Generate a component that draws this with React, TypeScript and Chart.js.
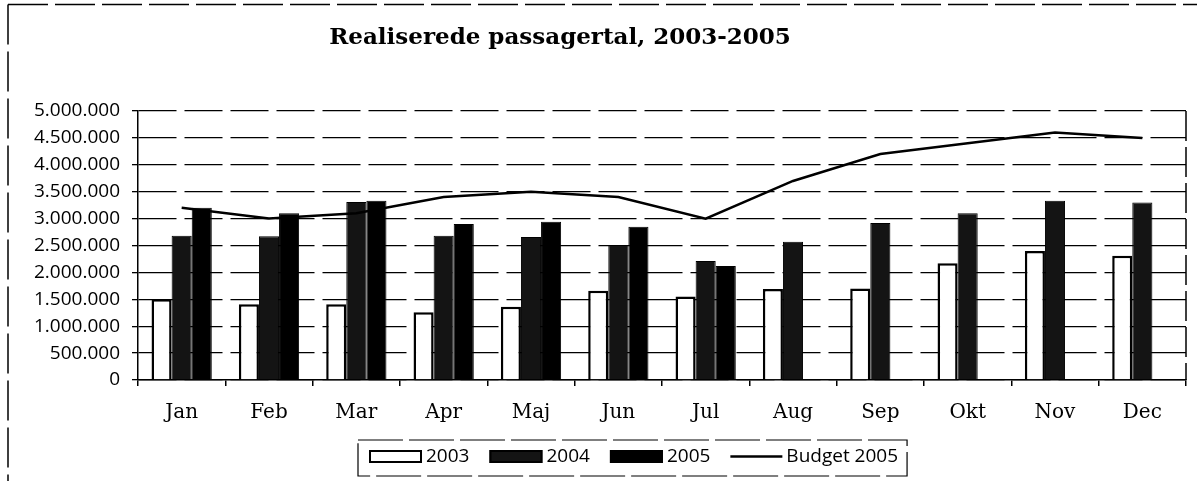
import React, { useEffect, useRef } from "react";
import { Chart, registerables } from "chart.js";

Chart.register(...registerables);

const TITLE = "Realiserede passagertal, 2003-2005";
const categories = ["Jan", "Feb", "Mar", "Apr", "Maj", "Jun", "Jul", "Aug", "Sep", "Okt", "Nov", "Dec"];
const series2003 = [1500000, 1410000, 1410000, 1260000, 1360000, 1660000, 1550000, 1690000, 1700000, 2170000, 2400000, 2310000];
const series2004 = [2680000, 2670000, 3310000, 2680000, 2660000, 2510000, 2210000, 2570000, 2920000, 3100000, 3330000, 3300000];
const series2005 = [3200000, 3100000, 3330000, 2900000, 2940000, 2850000, 2120000, null, null, null, null, null];
const budget2005 = [3200000, 3000000, 3100000, 3400000, 3500000, 3400000, 3000000, 3700000, 4200000, 4400000, 4600000, 4500000];
const seriesLabels = ["2003", "2004", "2005", "Budget 2005"];

const SANS = "'Open Sans', sans-serif";
const SERIF = "'DejaVu Serif', serif";

function formatDK(v: number): string {
  return String(Math.round(v)).replace(/\B(?=(\d{3})+(?!\d))/g, ".");
}

const decorPlugin = {
  id: "decor",
  afterDraw(chart: any) {
    const ctx = chart.ctx as CanvasRenderingContext2D;
    const area = chart.chartArea;
    ctx.save();
    // outer frame (top + left)
    ctx.strokeStyle = "#000";
    ctx.lineWidth = 1.5;
    ctx.setLineDash([40, 7]);
    ctx.beginPath();
    ctx.moveTo(8, 4.5);
    ctx.lineTo(1197, 4.5);
    ctx.moveTo(8, 4.5);
    ctx.lineTo(8, 481);
    ctx.stroke();
    // right plot border
    ctx.lineWidth = 1.5;
    ctx.setLineDash([30, 6]);
    ctx.beginPath();
    ctx.moveTo(area.right, area.top);
    ctx.lineTo(area.right, area.bottom);
    ctx.stroke();
    ctx.setLineDash([]);

    // title
    ctx.fillStyle = "#000";
    ctx.font = "bold 23px " + SERIF;
    ctx.textAlign = "center";
    ctx.textBaseline = "alphabetic";
    ctx.fillText(TITLE, 560, 44);

    // legend
    const ds = chart.data.datasets;
    ctx.font = "19px " + SANS;
    ctx.textBaseline = "middle";
    ctx.textAlign = "left";
    const boxLeft = 358, boxTop = 440, boxBottom = 476;
    const midY = 456.5;
    let x = boxLeft + 11;
    for (let i = 0; i < ds.length; i++) {
      const d = ds[i];
      if (d.type === "line") {
        ctx.strokeStyle = "#000";
        ctx.lineWidth = 2.5;
        ctx.beginPath();
        ctx.moveTo(x, midY);
        ctx.lineTo(x + 52, midY);
        ctx.stroke();
        x += 56;
      } else {
        ctx.fillStyle = d.backgroundColor;
        ctx.fillRect(x, 450, 53, 13);
        ctx.strokeStyle = "#000";
        ctx.lineWidth = 2;
        ctx.strokeRect(x + 1, 451, 51, 11);
        x += 57;
      }
      ctx.fillStyle = "#000";
      ctx.fillText(d.label, x, midY);
      x += ctx.measureText(d.label).width + 20;
    }
    const boxRight = x - 20 + 9;
    ctx.strokeStyle = "#000";
    ctx.lineWidth = 1.2;
    ctx.setLineDash([45, 6]);
    ctx.strokeRect(boxLeft, boxTop, boxRight - boxLeft, boxBottom - boxTop);
    ctx.restore();
  },
};

export default function App() {
  const ref = useRef<HTMLCanvasElement | null>(null);
  useEffect(() => {
    if (!ref.current) return;
    const chart = new Chart(ref.current, {
      type: "bar",
      data: {
        labels: categories,
        datasets: [
          {
            label: seriesLabels[0],
            data: series2003,
            backgroundColor: "#ffffff",
            borderColor: "#000",
            borderWidth: 2.5,
            order: 1,
          },
          {
            label: seriesLabels[1],
            data: series2004,
            backgroundColor: "#141414",
            borderColor: "#000",
            borderWidth: 1,
            order: 1,
          },
          {
            label: seriesLabels[2],
            data: series2005,
            backgroundColor: "#000000",
            borderColor: "#000",
            borderWidth: 1,
            order: 1,
          },
          {
            type: "line",
            label: seriesLabels[3],
            data: budget2005,
            borderColor: "#000",
            backgroundColor: "#000",
            borderWidth: 2.5,
            pointRadius: 0,
            tension: 0,
            order: 0,
          } as any,
        ],
      },
      options: {
        responsive: false,
        animation: false,
        layout: { padding: { top: 111, right: 11, bottom: 0, left: 0 } },
        datasets: { bar: { categoryPercentage: 0.69, barPercentage: 1.0 } } as any,
        plugins: {
          legend: { display: false },
          title: { display: false },
          tooltip: { enabled: false },
        },
        scales: {
          x: {
            offset: true,
            afterFit: (s: any) => { s.height = 101; },
            grid: { display: true, drawOnChartArea: false, drawTicks: true, tickLength: 6, color: "#000", lineWidth: 1.5, offset: true },
            border: { display: true, color: "#000", width: 1.5 },
            ticks: { color: "#000", font: { family: SERIF, size: 20 }, padding: 15 },
          },
          y: {
            min: 0,
            max: 5000000,
            afterFit: (s: any) => { s.width = 138; },
            grid: { color: "#000", lineWidth: 1.3, tickLength: 6, drawTicks: true },
            border: { display: true, color: "#000", width: 1.5, dash: [38, 8] },
            ticks: {
              stepSize: 500000,
              color: "#000",
              padding: 12,
              font: { family: SANS, size: 19 },
              callback: (v: any) => formatDK(Number(v)),
            },
          },
        },
      },
      plugins: [decorPlugin],
    });
    return () => chart.destroy();
  }, []);
  return (
    <div style={{ position: "fixed", left: 0, top: 0, width: 1197, height: 481, background: "#fff" }}>
      <canvas ref={ref} width={1197} height={481} style={{ width: 1197, height: 481, display: "block" }} />
    </div>
  );
}
